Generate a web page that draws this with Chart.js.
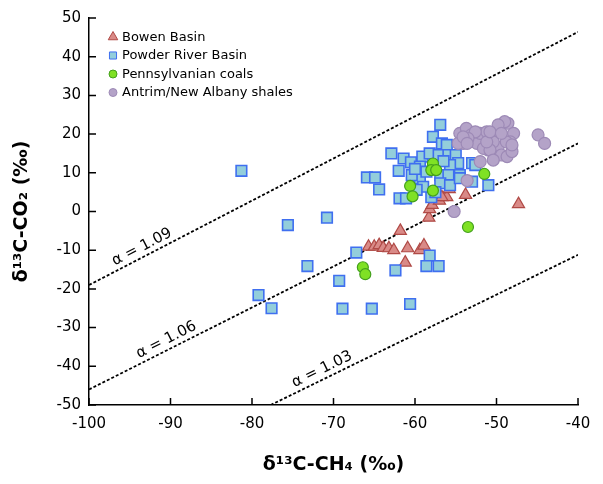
<!DOCTYPE html>
<html>
<head>
<meta charset="utf-8">
<script src="https://cdn.jsdelivr.net/npm/chart.js@4.4.0/dist/chart.umd.min.js"></script>
<style>
  body { margin: 0; background: #fff; }
  canvas { display: block; }
</style>
</head>
<body>
<canvas id="myChart" width="603" height="484"></canvas>
<script>
// Bowen Basin
const bowenX = [-65.7, -65.0, -64.4, -63.9, -63.2, -62.6, -60.9, -59.4, -58.9, -61.2, -61.8, -58.3, -58.2, -57.9, -57.0, -56.1, -56.7, -55.8, -53.8, -47.3];
const bowenY = [-9.1, -9.1, -8.7, -9.4, -9.5, -10.0, -9.5, -10.0, -8.8, -13.2, -5.0, -1.6, 0.6, 1.7, 2.8, 3.7, 3.7, 5.8, 4.3, 1.9];

// Powder River Basin
const powderX = [-81.3, -75.6, -70.8, -67.2, -73.2, -69.3, -79.2, -77.6, -68.9, -65.3, -60.6, -62.4, -58.2, -58.6, -57.1,
  -65.9, -64.9, -64.4, -61.9, -61.1, -58.0, -51.0,
  -56.9, -57.8, -56.7, -56.1, -62.9, -61.4, -60.5, -59.1, -58.2, -57.1, -55.9, -55.0, -54.7, -55.7, -59.4,
  -59.4, -58.6, -56.9, -55.9, -54.5, -53.0, -59.0, -56.9, -55.7, -54.5, -59.8, -52.6, -60.4, -53.0, -57.5, -56.5, -60.0, -62.0];
const powderY = [10.5, -3.5, -1.6, -10.6, -14.1, -17.9, -21.6, -25.0, -25.1, -25.1, -23.9, -15.2, -11.4, -14.1, -14.1,
  8.8, 8.8, 5.7, 3.4, 3.4, 3.7, 6.8,
  22.4, 19.3, 17.6, 17.2, 15.0, 13.7, 12.7, 14.2, 15.0, 14.6, 14.6, 14.6, 12.5, 12.0, 11.6,
  8.6, 10.3, 9.4, 9.4, 9.4, 12.5, 6.4, 7.3, 6.8, 8.6, 5.6, 12.0, 9.4, 7.7, 5.0, 13.0, 11.0, 10.5];

// Pennsylvanian coals
const pennX = [-57.8, -58.0, -57.4, -60.6, -60.3, -57.8, -51.5, -53.5, -66.4, -66.1];
const pennY = [12.4, 10.7, 10.7, 6.6, 3.9, 5.4, 9.7, -4.0, -14.4, -16.2];

// Antrim/New Albany shales
const antrimX = [-54.5, -53.7, -53.1, -54.1, -54.7, -52.4, -52.0, -51.2, -50.4, -49.4, -48.6, -49.0, -47.9, -48.3, -49.8,
  -50.4, -51.0, -50.2, -49.4, -48.7, -48.1, -51.6, -50.8, -49.8, -52.6, -53.5, -51.2, -48.8, -48.1, -50.8, -49.4,
  -50.4, -54.1, -53.6, -52.0, -53.6, -55.2, -44.9, -44.1];
const antrimY = [20.2, 21.5, 19.8, 17.6, 17.6, 17.6, 20.2, 20.6, 19.8, 22.4, 22.8, 23.2, 20.2, 18.0, 16.7,
  18.0, 15.9, 14.2, 14.6, 14.2, 15.5, 16.3, 15.9, 22.4, 20.6, 18.9, 18.0, 18.0, 17.2, 20.6, 20.2,
  13.3, 19.3, 17.6, 12.9, 8.0, 0.0, 19.8, 17.6];

// fractionation lines (end points) and their labels
const alphaNames = ['α = 1.09', 'α = 1.06', 'α = 1.03'];
const alphaLineX = [[-100, -40], [-100, -40], [-77.7, -40]];
const alphaLineY = [[-19, 46.4], [-46, 17.6], [-50, -11.2]];
const alphaLabelX = [-93.5, -90.5, -71.4];
const alphaLabelY = [-9.2, -33.2, -40.8];

function toPoints(xs, ys) {
  return xs.map((v, i) => ({ x: v, y: ys[i] }));
}

const fontFamily = 'DejaVu Sans';

// tick marks point into the plot
const innerTicks = {
  id: 'innerTicks',
  afterDatasetsDraw(chart) {
    const { ctx, chartArea, scales: { x, y } } = chart;
    ctx.save();
    ctx.strokeStyle = '#000';
    ctx.lineWidth = 1.5;
    ctx.beginPath();
    x.ticks.forEach(t => {
      const px = x.getPixelForValue(t.value);
      ctx.moveTo(px, chartArea.bottom);
      ctx.lineTo(px, chartArea.bottom - 7);
    });
    y.ticks.forEach(t => {
      const py = y.getPixelForValue(t.value);
      ctx.moveTo(chartArea.left, py);
      ctx.lineTo(chartArea.left + 7, py);
    });
    ctx.stroke();
    ctx.restore();
  }
};

const alphaLabels = {
  id: 'alphaLabels',
  afterDatasetsDraw(chart) {
    const { ctx, scales: { x, y } } = chart;
    alphaNames.forEach((name, i) => {
      const dx = x.getPixelForValue(alphaLineX[i][1]) - x.getPixelForValue(alphaLineX[i][0]);
      const dy = y.getPixelForValue(alphaLineY[i][1]) - y.getPixelForValue(alphaLineY[i][0]);
      ctx.save();
      ctx.translate(x.getPixelForValue(alphaLabelX[i]), y.getPixelForValue(alphaLabelY[i]));
      ctx.rotate(Math.atan2(dy, dx));
      ctx.font = '15px ' + fontFamily;
      ctx.fillStyle = '#000';
      ctx.textAlign = 'center';
      ctx.textBaseline = 'middle';
      ctx.fillText(name, 0, 0);
      ctx.restore();
    });
  }
};

// legend inside the plot, top left
const insideLegend = {
  id: 'insideLegend',
  afterDraw(chart) {
    const { ctx, chartArea } = chart;
    const sizes = [5.5, 5, 4, 4];
    ctx.save();
    ctx.font = '13px ' + fontFamily;
    ctx.fillStyle = '#000';
    ctx.textBaseline = 'middle';
    for (let i = 0; i < 4; i++) {
      const ds = chart.data.datasets[i];
      const cx = chartArea.left + 24;
      const cy = chartArea.top + 19 + i * 18.5;
      ctx.fillStyle = ds.backgroundColor;
      ctx.strokeStyle = ds.borderColor;
      Chart.helpers.drawPoint(ctx, { pointStyle: ds.pointStyle, radius: sizes[i], borderWidth: 1.2, rotation: 0 }, cx, cy);
      ctx.fillStyle = '#000';
      ctx.fillText(ds.label, cx + 9, cy + 0.5);
    }
    ctx.restore();
  }
};

const lineSets = alphaNames.map((name, i) => ({
  label: name,
  data: toPoints(alphaLineX[i], alphaLineY[i]),
  showLine: true,
  borderColor: '#000',
  borderWidth: 1.8,
  borderDash: [3, 2],
  pointRadius: 0,
  order: 5
}));

new Chart(document.getElementById('myChart'), {
  type: 'scatter',
  data: {
    datasets: [
      {
        label: 'Bowen Basin',
        data: toPoints(bowenX, bowenY),
        pointStyle: 'triangle',
        pointRadius: 7,
        backgroundColor: '#d98a87',
        borderColor: '#b04a46',
        borderWidth: 1.2,
        order: 4
      },
      {
        label: 'Powder River Basin',
        data: toPoints(powderX, powderY),
        pointStyle: 'rect',
        pointRadius: 7.5,
        backgroundColor: '#93cedb',
        borderColor: '#3f6ff0',
        borderWidth: 1.6,
        order: 3
      },
      {
        label: 'Pennsylvanian coals',
        data: toPoints(pennX, pennY),
        pointStyle: 'circle',
        pointRadius: 5.5,
        backgroundColor: '#7fe124',
        borderColor: '#43a01c',
        borderWidth: 1.2,
        order: 2
      },
      {
        label: 'Antrim/New Albany shales',
        data: toPoints(antrimX, antrimY),
        pointStyle: 'circle',
        pointRadius: 6,
        backgroundColor: '#b4a3c8',
        borderColor: '#9d8ab6',
        borderWidth: 1.2,
        order: 1
      },
      ...lineSets
    ]
  },
  options: {
    responsive: false,
    animation: false,
    layout: { padding: { top: 18, right: 25, left: 0, bottom: 0 } },
    plugins: {
      legend: { display: false },
      tooltip: { enabled: false }
    },
    scales: {
      x: {
        type: 'linear',
        min: -100,
        max: -40,
        ticks: { stepSize: 10, color: '#000', padding: 10, font: { family: fontFamily, size: 15 } },
        grid: { display: false, drawTicks: false },
        border: { color: '#000', width: 1.5 },
        title: {
          display: true,
          text: 'δ¹³C-CH₄ (‰)',
          color: '#000',
          font: { family: fontFamily, size: 19, weight: 'bold' },
          padding: { top: 0, bottom: 8 }
        },
        afterFit: s => { s.height = 79; }
      },
      y: {
        type: 'linear',
        min: -50,
        max: 50,
        ticks: { stepSize: 10, color: '#000', padding: 8, font: { family: fontFamily, size: 15 } },
        grid: { display: false, drawTicks: false },
        border: { color: '#000', width: 1.5 },
        title: {
          display: true,
          text: 'δ¹³C-CO₂ (‰)',
          color: '#000',
          font: { family: fontFamily, size: 19, weight: 'bold' },
          padding: { top: 11, bottom: 0 }
        },
        afterFit: s => { s.width = 89; }
      }
    }
  },
  plugins: [innerTicks, alphaLabels, insideLegend]
});
</script>
</body>
</html>
